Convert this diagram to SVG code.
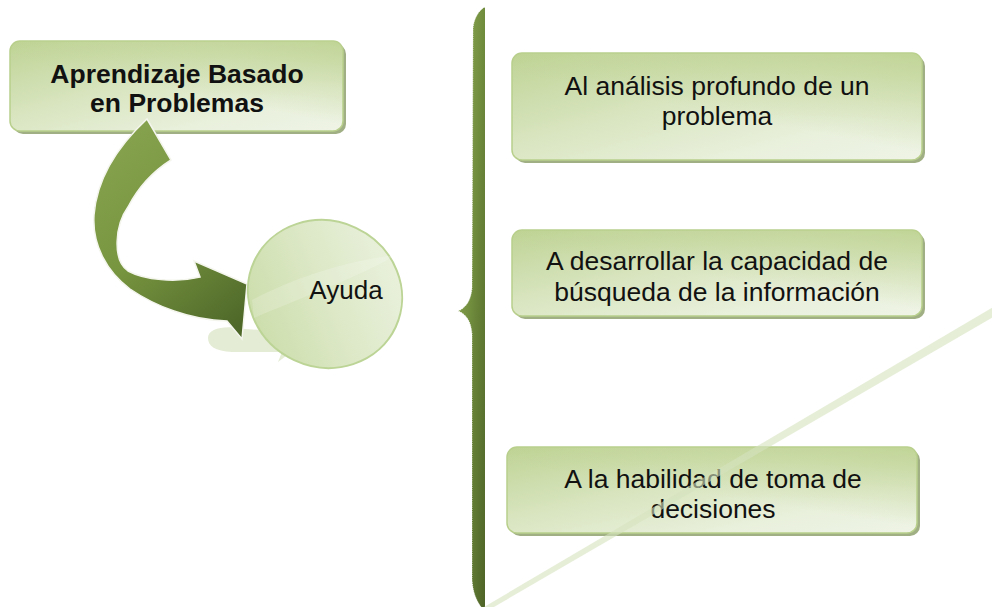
<svg xmlns="http://www.w3.org/2000/svg" width="992" height="607" viewBox="0 0 992 607">
  <defs>
    <linearGradient id="boxFill" x1="0" y1="0" x2="1" y2="1">
      <stop offset="0" stop-color="#bfd395"/>
      <stop offset="0.45" stop-color="#dae6c2"/>
      <stop offset="0.75" stop-color="#e9f0dc"/>
      <stop offset="1" stop-color="#eff4e6"/>
    </linearGradient>
    <linearGradient id="boxShine" x1="1" y1="0" x2="0.55" y2="0.6">
      <stop offset="0" stop-color="#bcd18e" stop-opacity="0.85"/>
      <stop offset="1" stop-color="#bcd18e" stop-opacity="0"/>
    </linearGradient>
    <linearGradient id="arrowFill" gradientUnits="userSpaceOnUse" x1="100" y1="140" x2="245" y2="320">
      <stop offset="0" stop-color="#87a34f"/>
      <stop offset="0.5" stop-color="#77943f"/>
      <stop offset="1" stop-color="#4e6829"/>
    </linearGradient>
    <linearGradient id="braceFill" x1="0" y1="0" x2="1" y2="1">
      <stop offset="0" stop-color="#94b15b"/>
      <stop offset="0.5" stop-color="#6f8b3c"/>
      <stop offset="1" stop-color="#4d6327"/>
    </linearGradient>
    <linearGradient id="ellFill" x1="0" y1="1" x2="1" y2="0">
      <stop offset="0" stop-color="#c7daa2"/>
      <stop offset="0.5" stop-color="#dce8c6"/>
      <stop offset="1" stop-color="#eef4e4"/>
    </linearGradient>
    <style>
      .shadow { fill: #a1af84; }
      .box { fill: url(#boxFill); stroke: #b8cf8c; stroke-width: 1.5; }
      .shine { fill: url(#boxShine); }
      .t { font-family: "Liberation Sans", Arial, sans-serif; font-size: 26.5px; fill: #111; text-anchor: middle; }
      .b { font-weight: bold; }
    </style>
  </defs>

  <rect width="992" height="607" fill="#ffffff"/>

  <!-- brace -->
  <g id="brace">
    <path d="M485,7 C479,10 474,18 473,28 L472,288 C471,300 466,308 458,311 C466,314 471,321 472,334 L472,580 C473,595 478,604 485,612 Z" fill="url(#braceFill)"/>
    <path d="M485,7 C479,10 474,18 473,28 L472,288 C471,300 466,308 458,311 C466,314 471,321 472,334 L472,580 C473,595 478,604 485,612" fill="none" stroke="#ffffff" stroke-width="1" stroke-dasharray="1 1.2" opacity="0.8"/>
  </g>

  <!-- source node -->
  <g id="node-abp">
    <rect class="shadow" x="13" y="44" width="333" height="90" rx="10"/>
    <rect class="box" x="10" y="41" width="333" height="90" rx="10"/>
    <rect class="shine" x="10" y="41" width="333" height="90" rx="10"/>
    <text class="t b" x="177" y="83">Aprendizaje Basado</text>
    <text class="t b" x="177" y="112">en Problemas</text>
  </g>

  <!-- connectors -->
  <g id="connectors">
    <path d="M208,338 C208,328 225,325 245,329 L330,334 L330,352 L290,353 L278,362 L282,352 L232,352 C215,351 208,346 208,338 Z" fill="#e4ecd5"/>
    <path d="M147,119 C119,145 97,178 94,215 C92,245 107,272 130,289 C155,306 190,320 227,321 L242,339 L247,284 L194,261 L200,277 C175,283 145,280 128,271 C112,260 115,225 128,207 C138,188 152,172 171,160 Z" fill="url(#arrowFill)" stroke="#f4f6ee" stroke-width="1.5" stroke-linejoin="miter"/>
  </g>

  <!-- Ayuda -->
  <g id="node-ayuda">
    <ellipse cx="325" cy="294" rx="78" ry="73" transform="rotate(25 325 294)" fill="url(#ellFill)" stroke="#bcd496" stroke-width="2"/>
    <path d="M252,300 C290,280 340,262 395,255 C370,272 320,290 254,318 Z" fill="#ffffff" opacity="0.18"/>
    <text class="t" x="346" y="299" style="font-size:26px">Ayuda</text>
  </g>

  <!-- right nodes -->
  <g id="node-analisis">
    <rect class="shadow" x="515" y="56" width="410" height="107" rx="10"/>
    <rect class="box" x="512" y="53" width="410" height="107" rx="10"/>
    <rect class="shine" x="512" y="53" width="410" height="107" rx="10"/>
    <text class="t" x="717" y="95">Al análisis profundo de un</text>
    <text class="t" x="717" y="125">problema</text>
  </g>

  <g id="node-busqueda">
    <rect class="shadow" x="515" y="233" width="410" height="86" rx="10"/>
    <rect class="box" x="512" y="230" width="410" height="86" rx="10"/>
    <rect class="shine" x="512" y="230" width="410" height="86" rx="10"/>
    <text class="t" x="717" y="270">A desarrollar la capacidad de</text>
    <text class="t" x="717" y="301">búsqueda de la información</text>
  </g>

  <g id="node-decisiones">
    <rect class="shadow" x="510" y="450" width="410" height="86" rx="10"/>
    <rect class="box" x="507" y="447" width="410" height="86" rx="10"/>
    <rect class="shine" x="507" y="447" width="410" height="86" rx="10"/>
    <text class="t" x="713" y="488">A la habilidad de toma de</text>
    <text class="t" x="713" y="518">decisiones</text>
  </g>

  <!-- faint diagonal -->
  <polygon points="484,607 494,607 1000,313 1000,303" fill="#d5e3be" opacity="0.6"/>
</svg>
